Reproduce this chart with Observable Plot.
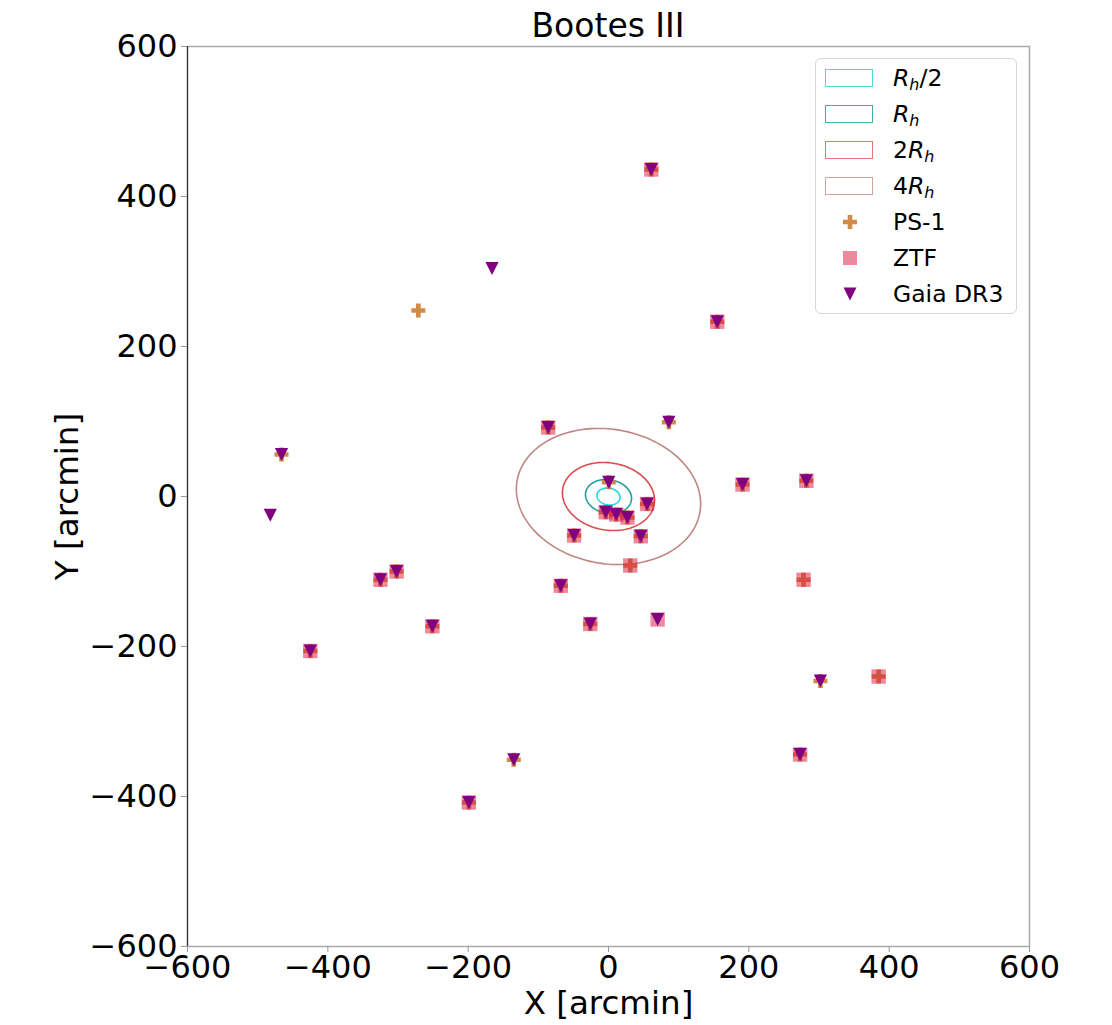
<!DOCTYPE html>
<html>
<head>
<meta charset="utf-8">
<script src="https://cdn.jsdelivr.net/npm/d3@7"></script>
<script src="https://cdn.jsdelivr.net/npm/@observablehq/plot@0.6"></script>
<style>
  body { margin: 0; background: #fff; font-family: "DejaVu Sans", sans-serif; }
  #wrap { position: relative; width: 1112px; height: 1025px; }
  #title { position: absolute; left: 187px; width: 842px; top: 7px; text-align: center; font-size: 33px; line-height: 38px; color: #000; }
  #legend { position: absolute; left: 815px; top: 58px; width: 202px; height: 256px; border: 1.5px solid #d6d6d6; border-radius: 6px; background: rgba(255,255,255,0.85); box-sizing: border-box; }
  .row { position: absolute; left: 0; width: 198px; height: 36px; }
  .patch { position: absolute; left: 9px; top: 9px; width: 48px; height: 18px; box-sizing: border-box; border: 1.5px solid; background: #fff; }
  .mk { position: absolute; left: 24px; top: 8px; }
  .lab { position: absolute; left: 77px; top: 0; line-height: 36px; font-size: 23.5px; color: #000; white-space: nowrap; }
  .lab sub { font-size: 68%; vertical-align: -0.28em; line-height: 0; }
</style>
</head>
<body>
<div id="wrap">
  <div id="chart"></div>
  <div id="title">Bootes III</div>
  <div id="legend"></div>
</div>
<script>
// ---- Data (arcmin) ----
const ps1X  = [61, 155, -86, 86, -466, 0.4, 191, 282, 55, -4, 11, 27, -49, 46, 31, -68, -325, -302, -251, -26, 278, -425, 385, 302, -135, 273, -199, -271];
const ps1Y  = [436, 233, 92, 99, 56, 19, 16, 21, -10, -21, -24, -28, -52, -53, -92, -119, -111, -100, -173, -170, -111, -206, -240, -246, -351, -344, -408, 248];

const ztfX  = [61, 155, -86, 191, 282, 55, -4, 11, 27, -49, 46, 31, -68, -325, -302, -251, -26, 70, 278, -425, 385, 273, -199];
const ztfY  = [436, 233, 92, 16, 21, -10, -21, -24, -28, -52, -53, -92, -119, -111, -100, -173, -170, -164, -111, -206, -240, -344, -408];

const gaiaX = [61, -166, 155, 86, -86, -466, -482, 0.4, 191, 282, 55, -4, 11, 27, -49, 46, -68, -325, -302, -251, -26, 70, -425, 302, -135, 273, -199];
const gaiaY = [436, 304, 233, 99, 92, 56, -25, 19, 16, 21, -10, -21, -24, -28, -52, -53, -119, -111, -100, -173, -170, -164, -206, -246, -351, -344, -408];

// Half-light ellipse parameters
const rHalf = 33;          // arcmin
const ellipticity = 0.32;
const tiltDeg = -8;        // degrees, from X axis
const ellipseFactors = [0.5, 1, 2, 4];
const ellipseLabels  = ["Rh/2", "Rh", "2Rh", "4Rh"];
const ellipseColors  = ["#22d8dc", "#1f9e9e", "#dc4b4b", "#bf8682"];

const ticks = [-600, -400, -200, 0, 200, 400, 600];

// ---- Build tables ----
const ps1  = ps1X.map((x, i) => ({x, y: ps1Y[i]}));
const ztf  = ztfX.map((x, i) => ({x, y: ztfY[i]}));
const gaia = gaiaX.map((x, i) => ({x, y: gaiaY[i]}));

const ellipsePts = [];
const th = tiltDeg * Math.PI / 180;
ellipseFactors.forEach((k, j) => {
  const a = rHalf * k, b = rHalf * k * (1 - ellipticity);
  for (let i = 0; i < 180; i++) {
    const t = i / 180 * 2 * Math.PI;
    const ex = a * Math.cos(t), ey = b * Math.sin(t);
    ellipsePts.push({x: ex * Math.cos(th) - ey * Math.sin(th), y: ex * Math.sin(th) + ey * Math.cos(th), e: ellipseLabels[j]});
  }
});

// ---- Custom symbols ----
const symSquare = {draw(ctx, size) { const h = Math.sqrt(size / Math.PI); ctx.rect(-h, -h, 2 * h, 2 * h); }};
const symDown = {draw(ctx, size) { const h = Math.sqrt(size / Math.PI); ctx.moveTo(0, h); ctx.lineTo(-h, -h); ctx.lineTo(h, -h); ctx.closePath(); }};
const symPlus = {draw(ctx, size) {
  const h = Math.sqrt(size / Math.PI), w = h / 3;
  ctx.moveTo(-w, -h); ctx.lineTo(w, -h); ctx.lineTo(w, -w); ctx.lineTo(h, -w); ctx.lineTo(h, w); ctx.lineTo(w, w);
  ctx.lineTo(w, h); ctx.lineTo(-w, h); ctx.lineTo(-w, w); ctx.lineTo(-h, w); ctx.lineTo(-h, -w); ctx.lineTo(-w, -w); ctx.closePath();
}};

const chart = Plot.plot({
  width: 1112, height: 1025,
  marginLeft: 187, marginRight: 83, marginTop: 46, marginBottom: 79,
  style: {fontFamily: "DejaVu Sans, sans-serif", fontSize: "32px", color: "#000", background: "#fff"},
  x: {domain: [-600, 600]},
  y: {domain: [-600, 600]},
  color: {domain: ellipseLabels, range: ellipseColors},
  marks: [
    Plot.frame({stroke: "#aaa", strokeWidth: 1.5}),
    Plot.ruleX([-600], {stroke: "#333", strokeWidth: 1.2}),
    Plot.axisX(ticks, {tickSize: 6, tickPadding: 3, stroke: "#999", fontSize: 32, label: null}),
    Plot.axisY(ticks, {tickSize: 6, tickPadding: 4, stroke: "#999", fontSize: 32, label: null}),
    Plot.text(["X [arcmin]"], {frameAnchor: "bottom", dy: 57, fontSize: 32.5, lineAnchor: "middle", textAnchor: "middle", text: d => d}),
    Plot.text(["Y [arcmin]"], {frameAnchor: "left", dx: -120, rotate: -90, fontSize: 32.5, lineAnchor: "middle", textAnchor: "middle", text: d => d}),
    Plot.line(ellipsePts, {x: "x", y: "y", z: "e", stroke: "e", strokeWidth: 1.6, curve: "linear-closed"}),
    Plot.dot(ps1, {x: "x", y: "y", symbol: symPlus, r: 7, fill: "#cd853f", fillOpacity: 0.95}),
    Plot.dot(ztf, {x: "x", y: "y", symbol: symSquare, r: 7.2, fill: "crimson", fillOpacity: 0.5}),
    Plot.dot(gaia, {x: "x", y: "y", symbol: symDown, r: 6.6, fill: "purple"})
  ]
});
document.getElementById("chart").appendChild(chart);

// ---- Legend ----
const legend = document.getElementById("legend");
const legendItems = [
  {kind: "patch", color: "#4fd8da", html: "<i>R</i><sub><i>h</i></sub>/2"},
  {kind: "patch", color: "#4aa9a9", html: "<i>R</i><sub><i>h</i></sub>"},
  {kind: "patch", color: "#e27a78", html: "2<i>R</i><sub><i>h</i></sub>"},
  {kind: "patch", color: "#d0a6a4", html: "4<i>R</i><sub><i>h</i></sub>"},
  {kind: "plus", html: "PS-1"},
  {kind: "square", html: "ZTF"},
  {kind: "tri", html: "Gaia DR3"}
];
legendItems.forEach((it, i) => {
  const row = document.createElement("div");
  row.className = "row";
  row.style.top = (1 + i * 36) + "px";
  let mark = "";
  if (it.kind === "patch") mark = `<div class="patch" style="border-color:${it.color}"></div>`;
  else if (it.kind === "plus") mark = `<svg class="mk" width="20" height="20" viewBox="-10 -10 20 20"><path d="M-2.3,-7H2.3V-2.3H7V2.3H2.3V7H-2.3V2.3H-7V-2.3H-2.3Z" fill="#cd853f" fill-opacity="0.95"/></svg>`;
  else if (it.kind === "square") mark = `<svg class="mk" width="20" height="20" viewBox="-10 -10 20 20"><rect x="-7" y="-7" width="14" height="14" fill="crimson" fill-opacity="0.5"/></svg>`;
  else mark = `<svg class="mk" width="20" height="20" viewBox="-10 -10 20 20"><path d="M0,6.5L-6.5,-6.5H6.5Z" fill="purple"/></svg>`;
  row.innerHTML = mark + `<div class="lab">${it.html}</div>`;
  legend.appendChild(row);
});
</script>
</body>
</html>
